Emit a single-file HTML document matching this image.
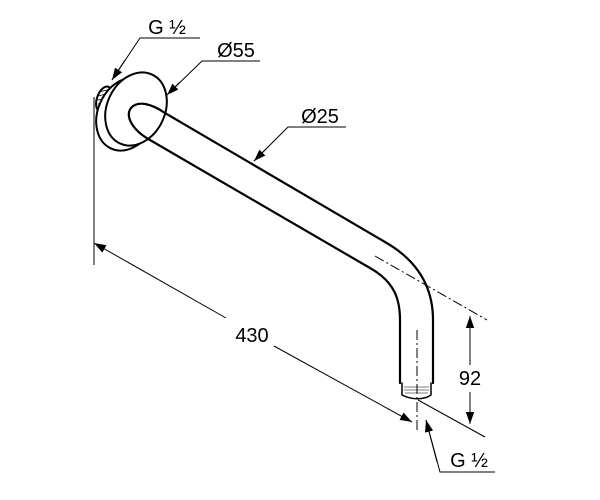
<!DOCTYPE html>
<html><head><style>html,body{margin:0;padding:0;background:#fff}svg{display:block}</style></head>
<body>
<svg width="600" height="500" viewBox="0 0 600 500" xmlns="http://www.w3.org/2000/svg" font-family="Liberation Sans, sans-serif">
<defs>
<marker id="a" viewBox="0 0 10 10" refX="10" refY="5" markerWidth="12" markerHeight="12" markerUnits="userSpaceOnUse" orient="auto"><path d="M0,1.5 L10,5 L0,8.5 Z" fill="#000"/></marker>
</defs>
<g stroke="#000" stroke-width="2" stroke-linecap="round">
<ellipse cx="104" cy="99" rx="7" ry="13" transform="rotate(20 104 99)" fill="#fff"/>
<path d="M99,92 L107,90 M98,96 L106,94 M98,100 L106,98 M98,104 L106,102" stroke-width="0.8" fill="none"/>
<ellipse cx="127" cy="114" rx="29" ry="38" transform="rotate(25 127 114)" fill="#fff"/>
<ellipse cx="136" cy="109" rx="29" ry="38" transform="rotate(25 136 109)" fill="#fff"/>
</g>
<g fill="none" stroke="#000" stroke-width="2.2" stroke-linecap="round">
<path d="M165,113 L385,242 C420,262 433,290 433,320 L433,383"/>
<path d="M150,140 L370,268 C395,282 400,300 400,320 L400,383"/>
<path d="M165,113 C152,104 138,100 131,108 C125,116 132,130 150,140"/>
<path d="M402,383 L402,395 C412,400 424,400 431,395 L431,383" stroke-width="1.5"/>
</g>
<path d="M404,387 L429,387 M404,390 L429,390 M405,393 L428,393" stroke="#555" stroke-width="0.8"/>
<g stroke="#000" stroke-width="1" fill="none">
<line x1="94" y1="97" x2="94" y2="265"/>
<line x1="226" y1="318" x2="94" y2="243" marker-end="url(#a)"/>
<line x1="274" y1="346" x2="412" y2="422" marker-end="url(#a)"/>
<line x1="417" y1="330" x2="417" y2="432" stroke-dasharray="10,3,2,3"/>
<line x1="375" y1="256" x2="487" y2="320" stroke-dasharray="10,3,2,3"/>
<line x1="418" y1="400" x2="485" y2="437"/>
<line x1="470" y1="365" x2="470" y2="316" marker-end="url(#a)"/>
<line x1="470" y1="392" x2="470" y2="424" marker-end="url(#a)"/>
<polyline points="495,472 440,472 426,420" />
<line x1="437" y1="462" x2="426" y2="420" marker-end="url(#a)"/>
<polyline points="200,38 140,38 112,80"/>
<line x1="125" y1="60" x2="112" y2="80" marker-end="url(#a)"/>
<polyline points="260,61 202,61 167,95"/>
<line x1="180" y1="82" x2="167" y2="95" marker-end="url(#a)"/>
<polyline points="346,127 288,127 254,161"/>
<line x1="266" y1="149" x2="254" y2="161" marker-end="url(#a)"/>
</g>
<g font-size="20" fill="#000" text-anchor="middle">
<text x="167" y="34">G ½</text>
<text x="236" y="57">Ø55</text>
<text x="320" y="123">Ø25</text>
<text x="252" y="342">430</text>
<text x="470" y="385">92</text>
<text x="469" y="467">G ½</text>
</g>
</svg>
</body></html>
